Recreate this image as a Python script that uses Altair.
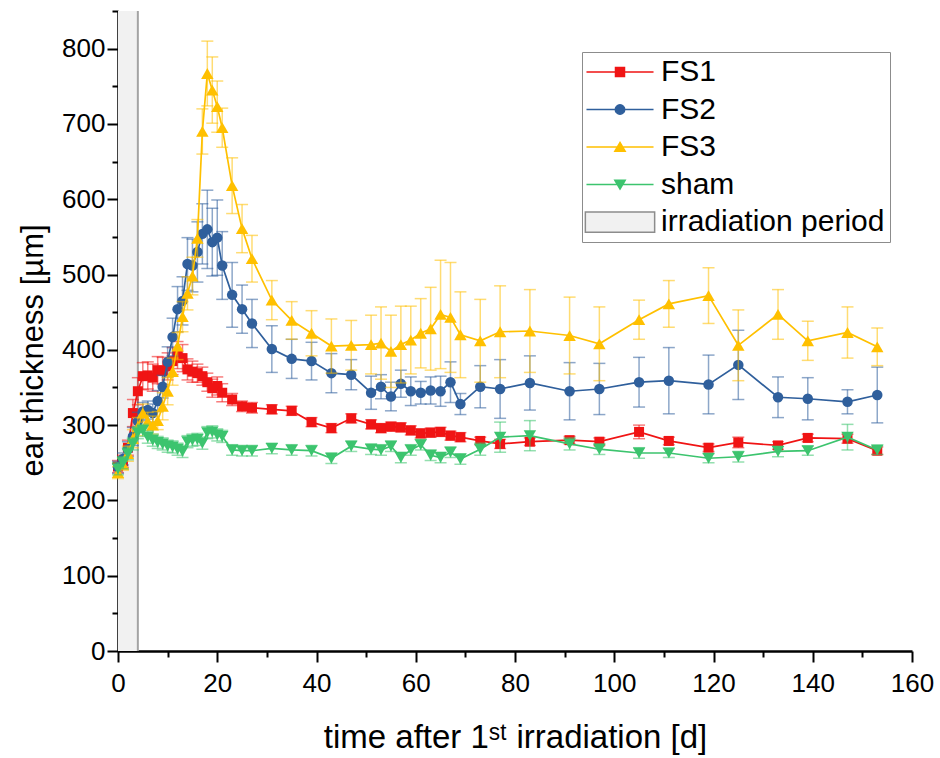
import altair as alt
import pandas as pd

# ---------------- data ----------------
days = [0, 1, 2, 3, 4, 5, 6, 7, 8, 9, 10, 11, 12, 13, 14, 15, 16, 17, 18, 19, 20, 21,
        23, 25, 27, 31, 35, 39, 43, 47,
        51, 53, 55, 57, 59, 61, 63, 65, 67, 69,
        73, 77, 83, 91, 97,
        105, 111, 119, 125, 133, 139, 147, 153]

fs1 = [245, 252, 270, 316, 345, 365, 366, 363, 373, 372, 378, 385, 393, 389, 374, 371, 369, 365, 357, 349, 352, 343,
       334, 325, 323, 321, 319, 304, 296, 309,
       301, 296, 298, 297, 293, 289, 290, 291, 286, 284,
       279, 275, 278, 280, 278,
       291, 279, 270, 277, 273, 283, 282, 266]
fs1_err = [8, 8, 10, 18, 18, 18, 18, 18, 18, 18, 18, 18, 18, 18, 14, 14, 12, 12, 12, 12, 12, 12,
           8, 7, 7, 6, 6, 6, 6, 6,
           6, 6, 6, 6, 6, 6, 6, 6, 6, 6,
           5, 6, 5, 5, 5,
           9, 5, 5, 7, 5, 5, 6, 5]

fs2 = [244, 255, 268, 285, 305, 318, 320, 316, 332, 351, 384, 417, 454, 465, 514, 512, 530, 554, 560, 543, 549, 512,
       473, 454, 435, 401, 388, 385, 369, 367,
       343, 351, 338, 355, 345, 343, 346, 345, 357, 328,
       351, 348, 356, 345, 348,
       357, 359, 354, 380, 337, 335, 331, 340]
fs2_err = [8, 8, 10, 12, 12, 12, 12, 12, 14, 15, 20, 25, 30, 32, 35, 35, 40, 40, 52, 45, 50, 45,
           43, 32, 32, 31, 26, 25, 26, 20,
           22, 16, 19, 18, 19, 15, 18, 20, 27, 14,
           28, 39, 36, 38, 34,
           33, 44, 39, 46, 27, 28, 16, 37]

fs3 = [237, 248, 262, 282, 298, 316, 305, 300, 306, 325, 345, 371, 405, 444, 475, 498, 548, 690, 767, 745, 723, 695,
       618, 561, 521, 466, 439, 422, 405, 406,
       407, 409, 398, 407, 413, 422, 428, 447, 443, 420,
       412, 424, 425, 419, 408,
       440, 461, 472, 406, 447, 412, 423, 404]
fs3_err = [8, 8, 10, 12, 12, 12, 12, 12, 12, 18, 18, 18, 18, 20, 22, 25, 25, 30, 43, 44, 34, 26,
           37, 32, 31, 26, 25, 30, 36, 33,
           39, 48, 48, 51, 45, 46, 55, 72, 73, 57,
           55, 61, 55, 51, 49,
           26, 31, 37, 47, 33, 26, 34, 25]

sham = [242, 250, 262, 275, 290, 293, 284, 280, 277, 275, 272, 271, 268, 265, 278, 280, 281, 276, 290, 291, 287, 285,
        267, 266, 266, 269, 267, 266, 256, 272,
        268, 267, 272, 257, 267, 274, 260, 257, 264, 255,
        268, 284, 286, 275, 268,
        263, 263, 256, 258, 265, 266, 284, 267]
sham_err = [8, 8, 8, 8, 8, 8, 8, 8, 8, 8, 8, 8, 8, 8, 8, 8, 8, 8, 8, 8, 8, 8,
            7, 7, 7, 7, 7, 7, 7, 7,
            7, 7, 7, 7, 7, 7, 7, 7, 7, 7,
            8, 20, 20, 8, 7,
            7, 6, 6, 7, 7, 6, 17, 6]

series_names = ["FS1", "FS2", "FS3", "sham"]
irr_label = "irradiation period"
irr_start, irr_end = [0], [4]
y_max = 850
x_max = 160

# ---------------- styles ----------------
colors = ["#f01414", "#2f5f9c", "#ffc000", "#3cc46e"]
shapes = ["square", "circle", "triangle-up", "triangle-down"]
sizes = [100, 110, 155, 155]
FONT = "Liberation Sans"

rows = []
for name, vals, errs in zip(series_names, [fs1, fs2, fs3, sham], [fs1_err, fs2_err, fs3_err, sham_err]):
    for d, v, e in zip(days, vals, errs):
        rows.append({"series": name, "day": d, "value": v, "lo": v - e, "hi": v + e})
df = pd.DataFrame(rows)

xs = alt.Scale(domain=[0, x_max], nice=False, zero=False)
ys = alt.Scale(domain=[0, y_max], nice=False, zero=False)

xaxis = alt.Axis(
    values=list(range(0, x_max + 1, 10)),
    labelExpr="datum.value % 20 === 0 ? datum.label : ''",
    tickSize={"condition": {"test": "datum.value % 20 === 0", "value": 11}, "value": 6},
    title="time after 1ˢᵗ irradiation [d]",
    grid=False, labelOverlap=False, labelFlush=False,
    labelFont=FONT, labelFontSize=26, labelColor="black", labelPadding=8,
    titleFont=FONT, titleFontSize=33, titleFontWeight="normal", titleColor="black", titlePadding=25,
    domainColor="black", domainWidth=2.5, tickColor="black", tickWidth=2,
)
yaxis = alt.Axis(
    values=list(range(0, y_max + 1, 50)),
    labelExpr="datum.value % 100 === 0 ? datum.label : ''",
    tickSize={"condition": {"test": "datum.value % 100 === 0", "value": 11}, "value": 6},
    title="ear thickness [µm]",
    grid=False, labelOverlap=False, labelFlush=False,
    labelFont=FONT, labelFontSize=26, labelColor="black", labelPadding=2,
    titleFont=FONT, titleFontSize=31, titleFontWeight="normal", titleColor="black", titlePadding=12,
    titleY=339,
    domainColor="black", domainWidth=2.5, tickColor="black", tickWidth=2,
)


def X(f):
    return alt.X(f"{f}:Q", scale=xs, axis=xaxis)


def Y(f):
    return alt.Y(f"{f}:Q", scale=ys, axis=yaxis)


rect_df = pd.DataFrame({"start": irr_start, "end": irr_end, "ylo": [0], "yhi": [y_max]})
rect = alt.Chart(rect_df).mark_rect(fill="#f1f1f1").encode(
    x=X("start"), x2="end:Q", y=Y("ylo"), y2="yhi:Q")
edge = alt.Chart(rect_df).mark_rule(color="#a3a3a3", strokeWidth=2).encode(
    x=X("end"), y=Y("ylo"), y2="yhi:Q")

layers = [rect, edge]
base = alt.Chart(df)
for name, c, shp, sz in zip(series_names, colors, shapes, sizes):
    sub = base.transform_filter(alt.datum.series == name)
    layers.append(sub.mark_rule(color=c, opacity=0.55, strokeWidth=1.5).encode(
        x=X("day"), y=Y("lo"), y2="hi:Q"))
    layers.append(sub.mark_tick(color=c, opacity=0.55, orient="horizontal", size=12, thickness=1.5).encode(
        x=X("day"), y=Y("lo")))
    layers.append(sub.mark_tick(color=c, opacity=0.55, orient="horizontal", size=12, thickness=1.5).encode(
        x=X("day"), y=Y("hi")))
    layers.append(sub.mark_line(color=c, strokeWidth=1.7).encode(x=X("day"), y=Y("value")))
    layers.append(sub.mark_point(filled=True, opacity=1, shape=shp, size=sz, color=c, strokeWidth=0).encode(
        x=X("day"), y=Y("value")))

# ---------------- legend (via fill/stroke/shape scales with custom symbols) ----------------
entries = series_names + [irr_label]
line = "M-7.45,0H7.45"
paths = [
    line + "M-1,-1H1V1H-1Z",
    line + "M1.05,0A1.05,1.05,0,1,1,-1.05,0A1.05,1.05,0,1,1,1.05,0Z",
    line + "M0,-1L1.15,0.95L-1.15,0.95Z",
    line + "M0,1L1.15,-0.95L-1.15,-0.95Z",
    "M-7.7,-2.25H7.7V2.25H-7.7Z",
]
fills = colors + ["#f1f1f1"]
strokes = colors + ["#8c8c8c"]

leg_props = dict(
    title=None, orient="none", legendX=464, legendY=41,
    labelFont=FONT, labelFontSize=30, labelColor="black",
    symbolSize=81, symbolOffset=18, labelOffset=26, rowPadding=7.5, padding=5,
    strokeColor="#8c8c8c", fillColor="white", labelLimit=400,
    symbolFillColor="#000000", symbolStrokeColor="#000000",
    symbolStrokeWidth=1.5, symbolOpacity=1,
)
leg_df = pd.DataFrame({"entry": entries})
legend_layer = alt.Chart(leg_df).mark_point(filled=True, opacity=1).encode(
    fill=alt.Fill("entry:N", scale=alt.Scale(domain=entries, range=fills), legend=alt.Legend(**leg_props)),
    stroke=alt.Stroke("entry:N", scale=alt.Scale(domain=entries, range=strokes), legend=alt.Legend(**leg_props)),
    shape=alt.Shape("entry:N", scale=alt.Scale(domain=entries, range=paths), legend=alt.Legend(**leg_props)),
).transform_filter("false")
layers.append(legend_layer)

chart = alt.layer(*layers).properties(
    width=794, height=640,
    autosize=alt.AutoSizeParams(type="none"),
    padding={"left": 118, "top": 11, "right": 28, "bottom": 107},
    background="white",
).configure_view(stroke=None)

chart.save("out.html", embed_options={"renderer": "svg", "actions": False})
